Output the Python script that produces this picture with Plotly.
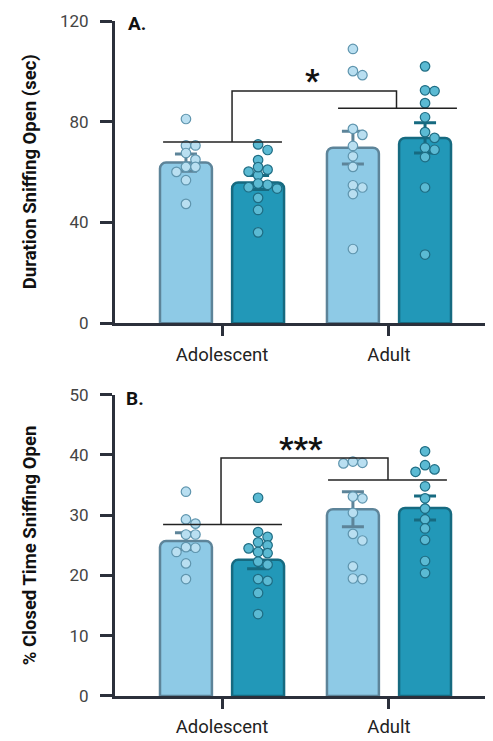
import math
import plotly.graph_objects as go

# ---------------- data ----------------
groups = ["Adolescent", "Adult"]

# Panel A: Duration sniffing open (sec)
a_mean_light = [63.8, 69.7]
a_mean_dark = [55.9, 73.6]
a_sem_light = [3.4, 6.5]
a_sem_dark = [2.8, 6.0]
a_pts_ado_light = [81.1, 70.6, 70.6, 67.6, 65.0, 62.1, 62.1, 60.1, 56.8, 47.4]
a_pts_ado_dark = [71.0, 68.8, 64.8, 60.2, 58.8, 61.0, 62.0, 55.0, 54.0, 53.5, 55.5, 49.8, 45.0, 36.1]
a_pts_adu_light = [108.9, 100.1, 98.5, 77.2, 74.8, 70.4, 66.3, 62.1, 53.9, 54.8, 51.3, 29.5]
a_pts_adu_dark = [102.0, 92.5, 92.2, 87.4, 81.8, 75.9, 73.6, 68.9, 69.7, 66.0, 53.9, 27.3]

# Panel B: % closed time sniffing open
b_mean_light = [25.7, 31.0]
b_mean_dark = [22.6, 31.2]
b_sem_light = [1.4, 2.9]
b_sem_dark = [1.5, 2.0]
b_pts_ado_light = [33.9, 29.3, 28.6, 26.8, 26.8, 24.6, 24.7, 23.9, 22.0, 19.4]
b_pts_ado_dark = [32.9, 27.2, 26.4, 25.5, 24.5, 25.0, 23.7, 23.9, 22.3, 21.8, 19.4, 19.1, 17.1, 13.6]
b_pts_adu_light = [50.6, 38.6, 38.9, 38.7, 33.1, 32.8, 30.4, 26.9, 25.8, 21.5, 19.5, 19.4]
b_pts_adu_dark = [40.6, 37.2, 38.3, 37.6, 34.8, 32.8, 31.1, 29.3, 27.8, 25.9, 22.4, 20.4]

a_yticks = [0, 40, 80, 120]
b_yticks = [0, 10, 20, 30, 40, 50]

# ---------------- style / geometry ----------------
# the page body has an 8px margin, so the figure is drawn 8px smaller and shifted
PAGE_PAD = 8
W, H = 493 - PAGE_PAD, 741 - PAGE_PAD
ML, MR, MT, MB = 115 - PAGE_PAD, 3, 16 - PAGE_PAD, 44
X_RANGE = [-0.641, 1.605]
OFF = 0.216
BW = 0.311
A_RANGE = [0, 120]
B_RANGE = [0, 50]
plot_w = W - ML - MR
plot_h = H - MT - MB
A_DOM = [(697 - 321) / plot_h, 1.0]
B_DOM = [0.0, (697 - 393) / plot_h]

LIGHT_FILL = "#8ecae6"
LIGHT_EDGE = "#5d8499"
DARK_FILL = "#2298b8"
DARK_EDGE = "#166a80"
LIGHT_PT = "#b9dff1"
LIGHT_PT_EDGE = "#5f95ae"
DARK_PT = "#5bbad3"
DARK_PT_EDGE = "#1e6c83"
AXIS = "#2b303b"

px_per_x = plot_w / (X_RANGE[1] - X_RANGE[0])


def swarm(values, px_per_y, step=9.5, min_dist=7.0):
    order = sorted(range(len(values)), key=lambda i: -values[i])
    placed = []
    offs = [0.0] * len(values)
    for i in order:
        vy = values[i] * px_per_y
        k = 0
        while True:
            cands = [0] if k == 0 else [k, -k]
            ok = None
            for c in cands:
                ox = c * step
                if all(math.hypot(ox - p[0], vy - p[1]) >= min_dist for p in placed):
                    ok = ox
                    break
            if ok is not None:
                placed.append((ok, vy))
                offs[i] = ok / px_per_x
                break
            k += 1
    return offs


fig = go.Figure()


def add_panel(xa, ya, means_l, means_d, sem_l, sem_d, pts, yrange, dom):
    px_per_y = (dom[1] - dom[0]) * plot_h / (yrange[1] - yrange[0])
    xl = [g - OFF for g in range(len(groups))]
    xd = [g + OFF for g in range(len(groups))]
    fig.add_trace(go.Bar(x=xl, y=means_l, width=BW, xaxis=xa, yaxis=ya,
                         marker=dict(color=LIGHT_FILL, line=dict(color=LIGHT_EDGE, width=2.5), cornerradius=6),
                         error_y=dict(type="data", array=sem_l, color=LIGHT_EDGE, thickness=3, width=11),
                         showlegend=False, hoverinfo="skip"))
    fig.add_trace(go.Bar(x=xd, y=means_d, width=BW, xaxis=xa, yaxis=ya,
                         marker=dict(color=DARK_FILL, line=dict(color=DARK_EDGE, width=2.5), cornerradius=6),
                         error_y=dict(type="data", array=sem_d, color=DARK_EDGE, thickness=3, width=11),
                         showlegend=False, hoverinfo="skip"))
    for centre, vals, fill, edge in [(xl[0], pts[0], LIGHT_PT, LIGHT_PT_EDGE),
                                     (xd[0], pts[1], DARK_PT, DARK_PT_EDGE),
                                     (xl[1], pts[2], LIGHT_PT, LIGHT_PT_EDGE),
                                     (xd[1], pts[3], DARK_PT, DARK_PT_EDGE)]:
        offs = swarm(vals, px_per_y)
        fig.add_trace(go.Scatter(x=[centre + o for o in offs], y=vals, mode="markers", xaxis=xa, yaxis=ya,
                                 marker=dict(size=9.5, color=fill, line=dict(color=edge, width=1.2)),
                                 cliponaxis=False, showlegend=False, hoverinfo="skip"))


add_panel("x", "y", a_mean_light, a_mean_dark, a_sem_light, a_sem_dark,
          [a_pts_ado_light, a_pts_ado_dark, a_pts_adu_light, a_pts_adu_dark], A_RANGE, A_DOM)
add_panel("x2", "y2", b_mean_light, b_mean_dark, b_sem_light, b_sem_dark,
          [b_pts_ado_light, b_pts_ado_dark, b_pts_adu_light, b_pts_adu_dark], B_RANGE, B_DOM)


# significance brackets
def bracket(xr, yr, left_line, right_line, lx, rx, top):
    ly, lx0, lx1 = left_line
    ry, rx0, rx1 = right_line
    line = dict(color="#222222", width=1.5)
    fig.add_shape(type="line", xref=xr, yref=yr, x0=lx0, x1=lx1, y0=ly, y1=ly, line=line)
    fig.add_shape(type="line", xref=xr, yref=yr, x0=rx0, x1=rx1, y0=ry, y1=ry, line=line)
    fig.add_shape(type="path", xref=xr, yref=yr,
                  path=f"M {lx},{ly} L {lx},{top} L {rx},{top} L {rx},{ry}", line=line)


bracket("x", "y", (72.0, -0.353, 0.359), (85.4, 0.695, 1.407), 0.06, 1.045, 92.2)
bracket("x2", "y2", (28.45, -0.353, 0.359), (35.85, 0.635, 1.347), -0.006, 0.994, 39.5)

FONT = "Roboto"
fig.add_annotation(x=0.539, y=96.5, xref="x", yref="y", text="<b>*</b>", showarrow=False,
                   font=dict(family=FONT, size=32, color="#111111"))
fig.add_annotation(x=0.473, y=41.2, xref="x2", yref="y2", text="<b>***</b>", showarrow=False,
                   font=dict(family=FONT, size=32, color="#111111"))
fig.add_annotation(x=(126 - 115) / plot_w, y=1.0 - 3 / plot_h, xref="paper", yref="paper", text="<b>A.</b>",
                   showarrow=False, xanchor="left", yanchor="middle",
                   font=dict(family=FONT, size=19, color="#111111"))
fig.add_annotation(x=(124 - 115) / plot_w, y=B_DOM[1] - 4 / plot_h, xref="paper", yref="paper", text="<b>B.</b>",
                   showarrow=False, xanchor="left", yanchor="middle",
                   font=dict(family=FONT, size=19, color="#111111"))

# y titles
for yr, txt in [("y domain", "Duration Sniffing Open (sec)"), ("y2 domain", "% Closed Time Sniffing Open")]:
    fig.add_annotation(x=(30 - 115) / plot_w, y=0.5, xref="paper", yref=yr, text=f"<b>{txt}</b>",
                       textangle=-90, showarrow=False, xanchor="center", yanchor="middle",
                       font=dict(family=FONT, size=18.5, color="#111111"))

xcommon = dict(range=X_RANGE, tickvals=list(range(len(groups))), ticktext=groups,
               showline=True, linecolor=AXIS, linewidth=3, ticks="outside", ticklen=10, tickwidth=3,
               tickcolor=AXIS, showgrid=False, zeroline=False,
               tickfont=dict(family=FONT, size=18.5, color="#222222"), ticklabelstandoff=2)
ycommon = dict(showline=True, linecolor=AXIS, linewidth=3, ticks="outside", ticklen=12, tickwidth=3,
               tickcolor=AXIS, showgrid=False, zeroline=False,
               tickfont=dict(family=FONT, size=17, color="#444444"), ticklabelstandoff=8)

fig.update_layout(
    width=W, height=H, margin=dict(l=ML, r=MR, t=MT, b=MB),
    paper_bgcolor="white", plot_bgcolor="white", barmode="overlay",
    xaxis=dict(domain=[0, 1], anchor="y", **xcommon),
    yaxis=dict(domain=A_DOM, range=A_RANGE, tickvals=a_yticks, anchor="x", **ycommon),
    xaxis2=dict(domain=[0, 1], anchor="y2", **xcommon),
    yaxis2=dict(domain=B_DOM, range=B_RANGE, tickvals=b_yticks, anchor="x2", **ycommon),
)

fig.write_html("out.html")
